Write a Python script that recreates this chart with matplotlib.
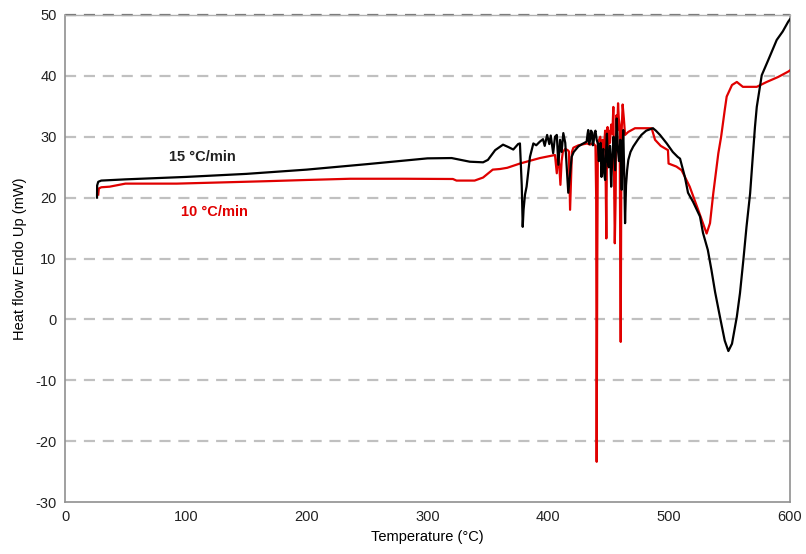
import matplotlib
matplotlib.use("Agg")
import matplotlib.pyplot as plt

plt.rcParams['font.family'] = ['Liberation Sans', 'DejaVu Sans']
plt.rcParams['axes.unicode_minus'] = False

# 15 °C/min (black)
t15 = [26.5, 26.6, 27.5, 30, 50, 100, 150, 200, 250, 300, 320, 335, 346, 350, 356, 362.5, 367, 371, 375, 376.5,
       378, 378.8, 379.5, 380.7, 382, 384.8, 387.6, 390, 393, 395.6, 397, 399, 400.8, 402, 404, 405.5, 407, 408.3,
       409.7, 411, 412.4, 414, 416.5, 419.3, 421, 424.8, 428, 431.7, 432.5, 433, 433.8, 434.5, 435.3, 436, 436.8,
       437.5, 438.2, 439, 440, 441, 441.8, 442.5, 443.2, 444, 444.8, 445.5, 446.2, 447, 447.8, 448.5, 449.2, 450,
       451, 452, 453, 454, 455.3, 456.6, 457.5, 458.5, 459.6, 460.7, 461.3, 462, 462.8, 463.5, 464.3, 465.2, 466.2,
       468, 470.3, 474, 477, 481,
       486.6, 489, 492.4, 498, 503, 507, 509, 513, 515.6, 519.8, 525.5, 528, 532, 535, 538, 542, 546, 549, 552, 556,
       558.6, 561.4, 564, 567, 569, 571, 572.5, 576.6, 582, 589, 594, 598.5, 600]
h15 = [20.0, 22.0, 22.6, 22.8, 23.0, 23.4, 23.9, 24.6, 25.5, 26.45, 26.5, 25.9, 25.8, 26.2, 27.8, 28.7, 28.3, 27.9, 28.8, 28.9,
       22.0, 15.2, 18.0, 20.5, 21.8, 26.7, 28.9, 28.6, 29.2, 29.6, 28.5, 30.3, 28.8, 30.2, 27.3, 30.0, 30.3, 25.4,
       29.5, 27.5, 30.6, 29.0, 20.8, 26.7, 27.5, 28.4, 28.8, 29.2, 30.5, 31.1, 28.8, 29.5, 31.0, 30.8, 28.6,
       29.2, 30.6, 31.0, 29.5, 28.9, 26.0, 27.0, 29.0, 23.4, 26.5, 28.0, 24.0, 22.9, 27.5, 30.5, 26.0, 25.0,
       28.5, 21.8, 27.0, 30.0, 24.5, 33.0, 28.0, 26.0, 29.5, 21.3, 27.0, 31.1, 24.0, 15.8, 22.0, 24.5, 26.2,
       27.5, 28.4, 29.5, 30.3, 31.0,
       31.4, 31.0, 30.3, 28.9, 27.5, 26.7, 26.4, 23.4, 20.8, 19.3, 16.9, 14.2, 11.4, 8.1, 4.5, 0.44, -3.5, -5.2, -4.0, 0.44,
       4.3, 9.75, 15.2, 20.7, 26.2, 31.6, 34.9, 40.1, 42.6, 45.9, 47.3, 48.9, 49.3]

# 10 °C/min (red)
t10 = [27.5, 28, 30, 37, 50, 92.5, 130, 167, 200, 236, 280, 321, 324, 339, 346, 354, 360, 366, 376.5, 393, 405.5,
       407, 408, 409, 410, 411, 412, 414, 416, 417, 418, 419.5, 420.7, 425, 432, 434.5, 437, 439, 439.6, 440, 440.5,
       441, 443, 444, 445, 446, 447, 448, 448.5, 449, 449.5, 450, 451, 452, 453, 453.8, 455, 455.7, 456.3, 457, 457.7,
       458.3, 459, 459.9, 460.5, 461.5, 462.5, 463.5, 466.2, 471.7, 476, 485.5, 488.3, 493, 499, 499.5, 506, 510.3,
       517, 524, 531, 533.8, 536.5, 540.7, 543, 546, 547.6, 552, 556, 561, 572.5, 580.7, 590, 598.5, 600]
h10 = [20.5, 21.5, 21.7, 21.8, 22.3, 22.3, 22.5, 22.7, 22.9, 23.1, 23.1, 23.06, 22.8, 22.8, 23.3, 24.6, 24.7, 24.9, 25.6, 26.5, 27.0,
       24.0, 27.0, 25.5, 22.1, 26.0, 27.5, 28.0, 27.8, 27.6, 18.0, 27.5, 28.2, 28.6, 28.9, 28.7, 29.0, 28.5, 20.0, -23.4, 10.0,
       29.0, 30.0, 27.5, 29.5, 28.0, 31.0, 13.3, 28.0, 31.6, 25.0, 31.0, 29.0, 32.0, 30.5, 34.9, 12.5, 20.0, 33.5, 31.0, 35.5,
       33.0, 32.0, -3.7, 30.0, 35.3, 33.0, 30.3, 30.8, 31.4, 31.4, 31.4, 29.5, 28.5, 27.8, 25.6, 25.1, 24.5,
       21.8, 18.0, 14.1, 15.8, 20.7, 27.3, 30.0, 34.4, 36.6, 38.5, 39.0, 38.2, 38.2, 39.0, 39.8, 40.7, 40.9]

xticks = [0, 100, 200, 300, 400, 500, 600]
yticks = [-30, -20, -10, 0, 10, 20, 30, 40, 50]

fig = plt.figure(figsize=(8.06, 5.54), dpi=100)
ax = fig.add_axes([65/806, 1-502/554, (790-65)/806, (502-15)/554])

for y in yticks[1:-1]:
    ax.axhline(y, color='#c0c0c0', lw=1.6, ls=(0, (5, 3.5)), zorder=1)
ax.axhline(50, color='#707070', lw=1.6, ls=(0, (5, 3.5)), zorder=1, clip_on=False)

ax.plot(t10, h10, color='#e00000', lw=1.6, zorder=3)
ax.plot(t15, h15, color='black', lw=1.6, zorder=4)

ax.set_xlim(0, 600)
ax.set_ylim(-30, 50)
ax.set_xticks(xticks)
ax.set_yticks(yticks)
ax.tick_params(length=0, labelsize=10.5, colors='#222222', pad=6)
for s in ['left', 'bottom', 'right']:
    ax.spines[s].set_color('#909090')
    ax.spines[s].set_linewidth(1.2)
ax.spines['top'].set_color('#b0b0b0')
ax.spines['top'].set_linewidth(1.0)

ax.set_xlabel('Temperature (°C)', fontsize=10.5, labelpad=4)
ax.set_ylabel('Heat flow Endo Up (mW)', fontsize=10.5, labelpad=6)

ax.text(114, 26.7, '15 °C/min', color='#222222', fontsize=10.5, fontweight='bold', ha='center', va='center')
ax.text(124, 17.6, '10 °C/min', color='#e00000', fontsize=10.5, fontweight='bold', ha='center', va='center')

fig.savefig('out.png', dpi=100)
